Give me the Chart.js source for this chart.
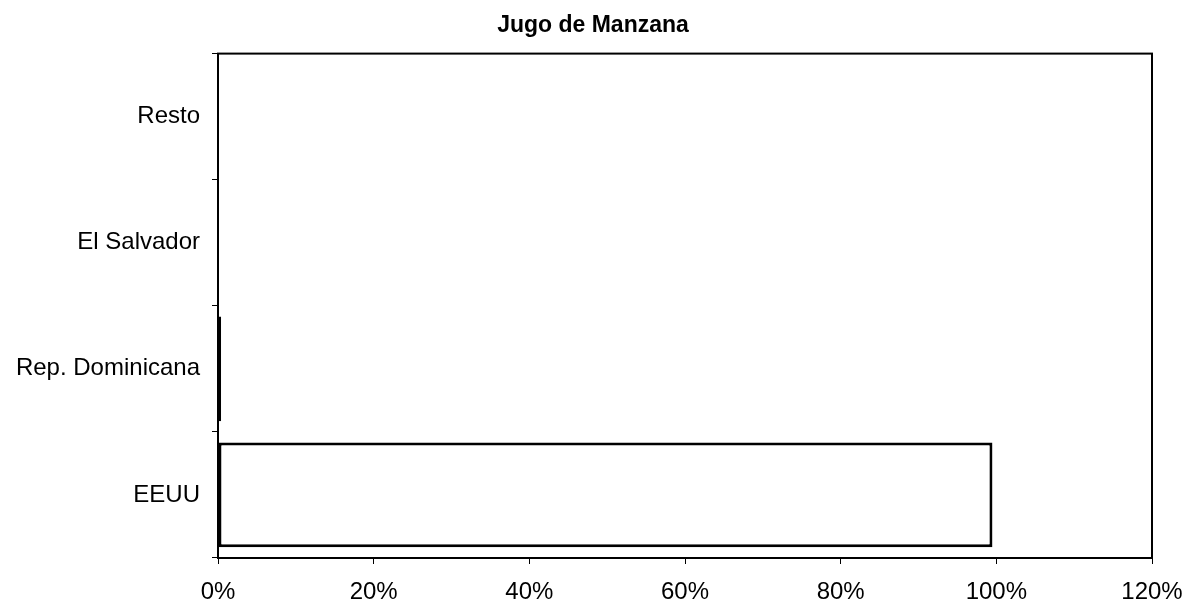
<!DOCTYPE html>
<html>
<head>
<meta charset="utf-8">
<script src="https://cdn.jsdelivr.net/npm/chart.js@4/dist/chart.umd.min.js"></script>
<style>
  html, body { margin: 0; padding: 0; background: #fff; }
  #wrap { width: 1186px; height: 604px; }
</style>
</head>
<body>
<div id="wrap"><canvas id="myChart"></canvas></div>
<script>
var paises = ['EEUU', 'Rep. Dominicana', 'El Salvador', 'Resto'];
var participacion = [99.5, 0.4, 0, 0];
var xTicks = [0, 20, 40, 60, 80, 100, 120];

// box around the plot area
var marco = {
	id: 'marco',
	afterDatasetsDraw: function(chart) {
		var a = chart.chartArea;
		var ctx = chart.ctx;
		ctx.save();
		ctx.strokeStyle = '#000';
		ctx.lineWidth = 2;
		ctx.strokeRect(a.left, a.top, a.right - a.left, a.bottom - a.top);
		ctx.restore();
	}
};

var ctx1 = document.getElementById('myChart').getContext('2d');

var chart1 = new Chart(ctx1, {
	type: 'bar',
	data: {
		labels: paises,
		datasets: [{
			data: participacion,
			backgroundColor: '#fff',
			borderColor: '#000',
			borderWidth: 3,
			borderSkipped: false,
			barPercentage: 1,
			categoryPercentage: 0.83
		}]
	},
	plugins: [marco],
	options: {
		indexAxis: 'y',
		responsive: true,
		maintainAspectRatio: false,
		animation: false,
		layout: { padding: 0 },
		plugins: {
			legend: { display: false },
			tooltip: { enabled: false },
			title: {
				display: true,
				text: 'Jugo de Manzana',
				color: '#000',
				font: { family: 'Liberation Sans, Arial', size: 23, weight: 'bold' },
				padding: { top: 12, bottom: 14 }
			}
		},
		scales: {
			x: {
				min: 0,
				max: 120,
				afterBuildTicks: function(scale) {
					scale.ticks = xTicks.map(function(v) { return { value: v }; });
				},
				afterFit: function(scale) {
					scale.height = 46;
					scale.paddingRight = 34;
				},
				ticks: {
					color: '#000',
					padding: 14,
					maxRotation: 0,
					font: { family: 'Liberation Sans, Arial', size: 24 },
					callback: function(v) { return v + '%'; }
				},
				grid: { drawOnChartArea: false, tickLength: 6, color: '#000', lineWidth: 1 },
				border: { display: false }
			},
			y: {
				reverse: true,
				afterFit: function(scale) { scale.width = 218; },
				ticks: {
					color: '#000',
					padding: 12,
					font: { family: 'Liberation Sans, Arial', size: 24 }
				},
				grid: { offset: true, drawOnChartArea: false, tickLength: 6, color: '#000', lineWidth: 1 },
				border: { display: false }
			}
		}
	}
});
</script>
</body>
</html>
